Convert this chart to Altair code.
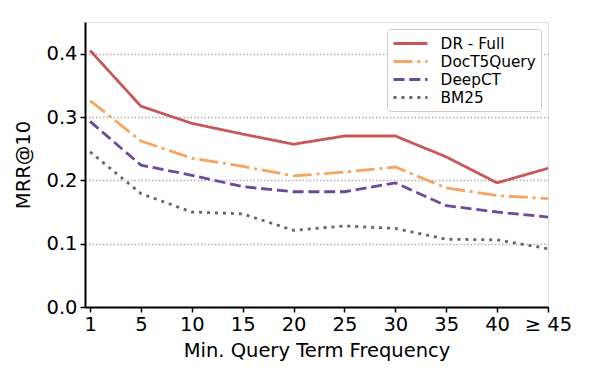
import altair as alt
import pandas as pd

x_labels = ["1", "5", "10", "15", "20", "25", "30", "35", "40", "≥ 45"]
series = ["DR - Full", "DocT5Query", "DeepCT", "BM25"]
dr_full = [0.405, 0.317, 0.290, 0.273, 0.257, 0.270, 0.270, 0.237, 0.196, 0.219]
doct5 = [0.326, 0.262, 0.235, 0.222, 0.207, 0.213, 0.221, 0.188, 0.176, 0.171]
deepct = [0.293, 0.224, 0.208, 0.190, 0.182, 0.182, 0.196, 0.160, 0.150, 0.142]
bm25 = [0.245, 0.179, 0.150, 0.147, 0.121, 0.128, 0.124, 0.107, 0.106, 0.092]

colors = ["#c9575a", "#f5a55f", "#6b4a9b", "#666666"]
dashes = [[1, 0], [19, 4.8, 3, 4.8], [11, 4.8], [3, 4.95]]

rows = []
for name, vals in zip(series, [dr_full, doct5, deepct, bm25]):
    for i, v in enumerate(vals):
        rows.append({"idx": i, "value": v, "method": name})
df = pd.DataFrame(rows)

label_expr = "[" + ",".join("'" + s + "'" for s in x_labels) + "][round(datum.value)]"

font = "DejaVu Sans"

chart = alt.Chart(df).mark_line(strokeWidth=2.8).encode(
    x=alt.X("idx:Q", scale=alt.Scale(domain=[-0.1, 9], nice=False, zero=False),
            axis=alt.Axis(values=list(range(10)), labelExpr=label_expr, title="Min. Query Term Frequency",
                          grid=False, labelFontSize=19.5, titleFontSize=19.5, labelColor="black",
                          titleColor="black", titleFontWeight="normal", domainColor="black",
                          domainWidth=2, tickColor="black", tickWidth=1.5, tickSize=5,
                          labelPadding=3, titlePadding=8, labelFont=font, titleFont=font,
                          labelFlush=False, labelOverlap=False)),
    y=alt.Y("value:Q", scale=alt.Scale(domain=[0, 0.45], nice=False),
            axis=alt.Axis(values=[0, 0.1, 0.2, 0.3, 0.4], format=".1f", title="MRR@10",
                          grid=True, gridColor="#b0b0b0", gridDash=[1.5, 2], gridWidth=1.3,
                          labelFontSize=19.5, titleFontSize=19.5, labelColor="black",
                          titleColor="black", titleFontWeight="normal", domainColor="black",
                          domainWidth=2, tickColor="black", tickWidth=1.5, tickSize=5,
                          labelPadding=3, titlePadding=12, labelFont=font, titleFont=font)),
    color=alt.Color("method:N", scale=alt.Scale(domain=series, range=colors),
                    sort=series,
                    legend=alt.Legend(title=None, orient="none", legendX=302, legendY=7,
                                      symbolType="M-1,0H3.25", symbolSize=256, symbolStrokeWidth=2.8,
                                      labelFontSize=15.3, labelFont=font, labelColor="black",
                                      strokeColor="#cccccc", cornerRadius=3, padding=5,
                                      fillColor="white", rowPadding=-1, labelOffset=29.6)),
    strokeDash=alt.StrokeDash("method:N", scale=alt.Scale(domain=series, range=dashes),
                              sort=series, legend=None),
).properties(width=463, height=285, padding={"left": 77, "top": 14, "right": 36, "bottom": 64}
).configure_view(stroke=None).configure(autosize=alt.AutoSizeParams(type="none"))

chart.save("out.html", embed_options={"renderer": "svg", "actions": False})
